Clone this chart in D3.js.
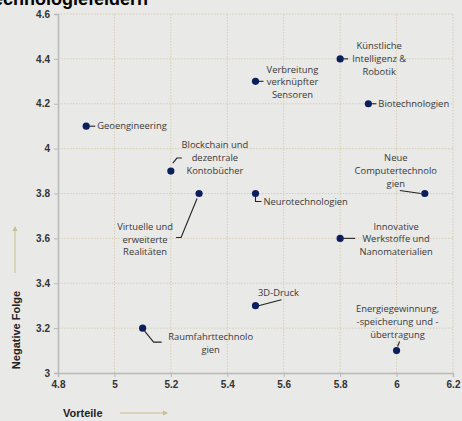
<!DOCTYPE html>
<head>
  <meta charset="utf-8">
  <title>Technologiefelder</title>
  <script src="https://cdn.jsdelivr.net/npm/d3@7"></script>
  <style>
    body { margin: 0; background: #e9e9e7; }
    svg { display: block; font-family: "Open Sans", sans-serif; }
    .tick text { font-family: "Liberation Sans", Arial, sans-serif; font-weight: bold; font-size: 10px; fill: #333; }
    .lbl { font-size: 9.4px; fill: #3a3a3a; }
  </style>
</head>
<body>
<svg width="462" height="421"></svg>
<script>
var names = ['Geoengineering', 'Blockchain und dezentrale Kontobücher', 'Virtuelle und erweiterte Realitäten',
  'Verbreitung verknüpfter Sensoren', 'Künstliche Intelligenz & Robotik', 'Biotechnologien',
  'Neurotechnologien', 'Neue Computertechnologien', 'Innovative Werkstoffe und Nanomaterialien',
  '3D-Druck', 'Raumfahrttechnologien', 'Energiegewinnung, -speicherung und -übertragung']
var vorteile = [4.9, 5.2, 5.3, 5.5, 5.8, 5.9, 5.5, 6.1, 5.8, 5.5, 5.1, 6.0]
var folge    = [4.1, 3.9, 3.8, 4.3, 4.4, 4.2, 3.8, 3.8, 3.6, 3.3, 3.2, 3.1]
var xTicks = [4.8, 5, 5.2, 5.4, 5.6, 5.8, 6, 6.2]
var yTicks = [3, 3.2, 3.4, 3.6, 3.8, 4, 4.2, 4.4, 4.6]

// label layout: text lines, anchor, offset from point, leader path (all px, relative to point)
var layout = [
  { t: ['Geoengineering'], a: 'start', dx: 11, dy: [0], lead: [[3,0],[9,0]] },
  { t: ['Blockchain und', 'dezentrale', 'Kontobücher'], a: 'middle', dx: 44, dy: [-26,-13,0], lead: [[2,-8],[6,-13],[11,-13]] },
  { t: ['Virtuelle und', 'erweiterte', 'Realitäten'], a: 'middle', dx: -54, dy: [33,46,58], lead: [[-2,5],[-18,44],[-23,44]] },
  { t: ['Verbreitung', 'verknüpfter', 'Sensoren'], a: 'middle', dx: 37, dy: [-12,0,13], lead: [[3,0],[8,0]] },
  { t: ['Künstliche', 'Intelligenz &', 'Robotik'], a: 'middle', dx: 39, dy: [-13,0,13], lead: [[3,0],[8,0]] },
  { t: ['Biotechnologien'], a: 'start', dx: 10, dy: [0], lead: [[3,0],[8,0]] },
  { t: ['Neurotechnologien'], a: 'start', dx: 8, dy: [8], lead: [[0,3],[0,8],[6,8]] },
  { t: ['Neue', 'Computertechnolo', 'gien'], a: 'middle', dx: -29, dy: [-36,-23,-10], lead: [[-4,0],[-25,-3]] },
  { t: ['Innovative', 'Werkstoffe und', 'Nanomaterialien'], a: 'middle', dx: 56, dy: [-12,0,13], lead: [[3,0],[15,0]] },
  { t: ['3D-Druck'], a: 'middle', dx: 23, dy: [-13], lead: [[3,0],[26,-6]] },
  { t: ['Raumfahrttechnolo', 'gien'], a: 'middle', dx: 68, dy: [9,22], lead: [[2,3],[11,14],[19,14]] },
  { t: ['Energiegewinnung,', '-speicherung und -', 'übertragung'], a: 'middle', dx: 1, dy: [-42,-29,-16], lead: [[1,-4],[3,-9]] }
]

var svg = d3.select('svg')
var x = d3.scaleLinear().domain([4.8, 6.2]).range([58, 453])
  , y = d3.scaleLinear().domain([3, 4.6]).range([373, 14])

// title, cut off at the top edge like in the source picture
svg.append('text').attr('x', 148).attr('y', 5).attr('text-anchor', 'end')
  .style('font-family', 'Liberation Sans, Arial').style('font-weight', 'bold').style('font-size', '18px')
  .text('Technologiefeldern')

// grid
svg.append('g').selectAll('line').data(xTicks.slice(1)).enter().append('line')
  .attr('x1', x).attr('x2', x).attr('y1', y(4.6)).attr('y2', y(3))
  .attr('stroke', '#d6ceb2').attr('stroke-dasharray', '1.5,1.5')
svg.append('g').selectAll('line').data(yTicks.slice(1)).enter().append('line')
  .attr('y1', y).attr('y2', y).attr('x1', x(4.8)).attr('x2', x(6.2))
  .attr('stroke', '#d6ceb2').attr('stroke-dasharray', '1.5,1.5')

svg.append('g').attr('transform', 'translate(0,' + y(3) + ')')
  .call(d3.axisBottom(x).tickValues(xTicks).tickFormat(d3.format('~g')).tickSize(4).tickPadding(4))
svg.append('g').attr('transform', 'translate(' + x(4.8) + ',0)')
  .call(d3.axisLeft(y).tickValues(yTicks).tickFormat(d3.format('~g')).tickSize(4).tickPadding(4))
svg.selectAll('.domain').attr('stroke', '#b9b9b9').attr('stroke-width', 1.5)
svg.selectAll('.tick line').attr('stroke', '#b9b9b9')

// axis titles + arrows
svg.append('text').attr('transform', 'translate(20,330) rotate(-90)').attr('text-anchor', 'middle')
  .style('font-family', 'Liberation Sans, Arial').style('font-weight', 'bold').style('font-size', '11px').attr('fill', '#222')
  .text('Negative Folge')
svg.append('text').attr('x', 63).attr('y', 417)
  .style('font-family', 'Liberation Sans, Arial').style('font-weight', 'bold').style('font-size', '11px').attr('fill', '#222')
  .text('Vorteile')
svg.append('line').attr('x1', 15).attr('x2', 15).attr('y1', 273).attr('y2', 230).attr('stroke', '#cbbd8e')
svg.append('path').attr('d', 'M12.5,231 L15,226 L17.5,231 Z').attr('fill', '#cbbd8e')
svg.append('line').attr('x1', 120).attr('x2', 164).attr('y1', 413).attr('y2', 413).attr('stroke', '#cbbd8e')
svg.append('path').attr('d', 'M163,410.5 L168,413 L163,415.5 Z').attr('fill', '#cbbd8e')

var pts = names.map(function (n, i) { return { n: n, x: vorteile[i], y: folge[i], l: layout[i] } })

var g = svg.append('g').selectAll('g').data(pts).enter().append('g')
  .attr('transform', function (d) { return 'translate(' + x(d.x) + ',' + y(d.y) + ')' })

g.append('path').attr('fill', 'none').attr('stroke', '#222').attr('stroke-width', 1.1)
  .attr('d', function (d) { return d3.line()(d.l.lead) })
g.append('circle').attr('r', 3.6).attr('fill', '#0b1f5c')
g.each(function (d) {
  var t = d3.select(this).append('text').attr('class', 'lbl').attr('text-anchor', d.l.a)
  d.l.t.forEach(function (s, i) {
    t.append('tspan').attr('x', d.l.dx).attr('y', d.l.dy[i]).attr('dy', '0.35em').text(s)
  })
})
</script>
</body>
